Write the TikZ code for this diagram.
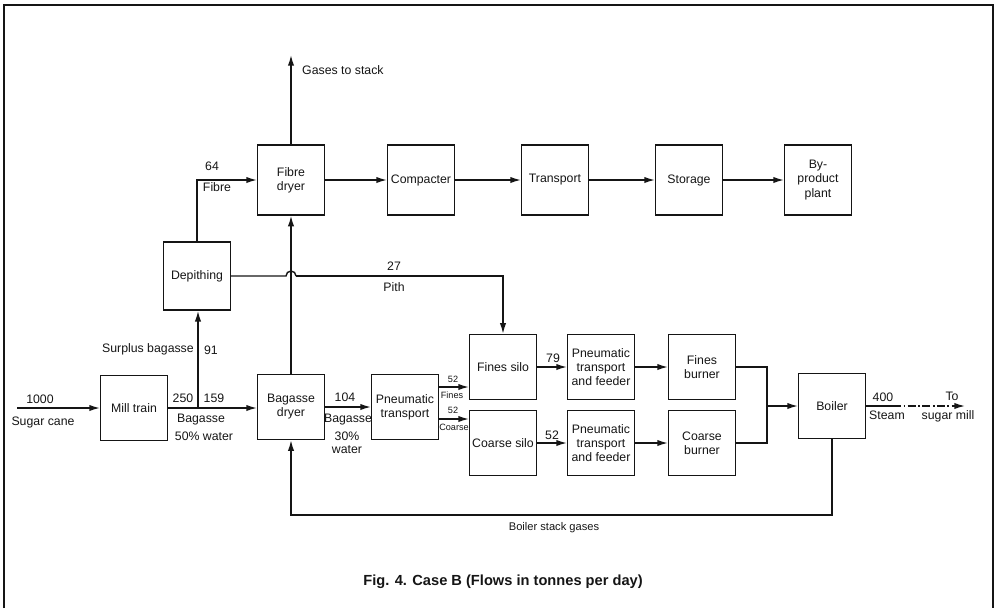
\documentclass[tikz,border=0pt]{standalone}
\usepackage{fontspec}
\setmainfont{Liberation Sans}
\usetikzlibrary{arrows.meta}
\definecolor{csInk}{HTML}{151515}

\begin{document}
\begin{tikzpicture}[x=0.3mm,y=-0.3mm,
		every node/.style={font=\fontsize{10.5}{12}\selectfont,text=csInk},
		procBox/.style={draw=csInk,line width=1.2pt,minimum width=20mm,minimum height=19.5mm,align=center,inner sep=1pt},
		tallBox/.style={procBox,minimum height=21mm},
		flowLine/.style={draw=csInk,line width=1.2pt},
		flowArr/.style={flowLine,-{Latex[length=3.2mm,width=1.9mm]}},
		flowLbl/.style={inner sep=0pt},
		tinyLbl/.style={inner sep=0pt,font=\fontsize{7.8}{9}\selectfont}]
		\useasboundingbox (0,0) rectangle (996,608);
		\draw[csInk,line width=1.6pt] (4,608) -- (4,5) -- (993,5) -- (993,608);
		\node[tallBox] (fibredryer) at (291,180) {Fibre\\dryer};
		\node[tallBox] (compacter) at (421,180) {Compacter};
		\node[tallBox] (transport) at (555,180) {Transport};
		\node[tallBox] (storage) at (689,180) {Storage};
		\node[tallBox] (byproduct) at (818,180) {By-\\product\\plant};
		\node[procBox,minimum height=20.5mm] (depithing) at (197,276) {Depithing};
		\node[procBox] (milltrain) at (134,408) {Mill train};
		\node[procBox] (bagdryer) at (291,407) {Bagasse\\dryer};
		\node[procBox] (pneutrans) at (405,407) {Pneumatic\\transport};
		\node[procBox] (finessilo) at (503,367) {Fines silo};
		\node[procBox] (coarsesilo) at (503,443) {Coarse silo};
		\node[procBox] (feederA) at (601,367) {Pneumatic\\transport\\and feeder};
		\node[procBox] (feederB) at (601,443) {Pneumatic\\transport\\and feeder};
		\node[procBox] (finesburner) at (702,367) {Fines\\burner};
		\node[procBox] (coarseburner) at (702,443) {Coarse\\burner};
		\node[procBox] (boiler) at (832,406) {Boiler};
		\coordinate (caneIn) at (17,408);
		\coordinate (splitA) at (198,408);
		\coordinate (gasTop) at (291,55);
		\coordinate (hopL) at (286,276);
		\coordinate (merge) at (767,406);
		\coordinate (steamA) at (893,406);
		\coordinate (steamEnd) at (965,406);
		\coordinate (stackLow) at (0,515);
		\draw[flowArr] (fibredryer) -- (compacter);
		\draw[flowArr] (compacter) -- (transport);
		\draw[flowArr] (transport) -- (storage);
		\draw[flowArr] (storage) -- (byproduct);
		\draw[flowArr] (fibredryer.north) -- (gasTop);
		\draw[flowArr] (depithing.north) |- (fibredryer.west);
		\draw[flowArr] (caneIn) -- (milltrain.west);
		\draw[flowArr] (milltrain.east) -- (milltrain.east -| bagdryer.west);
		\draw[flowArr] (splitA) -- (splitA |- depithing.south);
		\draw[flowArr] (bagdryer.north) -- (fibredryer.south);
		\draw[flowLine] (depithing.east) -- (hopL) arc[start angle=180,end angle=0,radius=1.5mm] coordinate (hopR);
		\draw[flowArr] (hopR) -| (finessilo.north);
		\draw[flowArr] (bagdryer) -- (pneutrans);
		\draw[flowArr] ([yshift=6mm]pneutrans.east) coordinate (finesOut) -- (finesOut -| finessilo.west);
		\draw[flowArr] ([yshift=-3.6mm]pneutrans.east) coordinate (coarseOut) -- (coarseOut -| coarsesilo.west);
		\draw[flowArr] (finessilo) -- (feederA);
		\draw[flowArr] (coarsesilo) -- (feederB);
		\draw[flowArr] (feederA) -- (finesburner);
		\draw[flowArr] (feederB) -- (coarseburner);
		\draw[flowLine] (finesburner.east) -| (merge) |- (coarseburner.east);
		\draw[flowArr] (merge) -- (boiler.west);
		\draw[flowLine] (boiler.east) -- (steamA);
		\draw[flowArr,dash pattern=on 7pt off 2pt on 1.5pt off 2pt] (steamA) -- (steamEnd);
		\draw[flowArr] (boiler.south) |- (stackLow -| bagdryer.south) -- (bagdryer.south);
		\node[flowLbl,anchor=west] (lgas) at (302,70) {Gases to stack};
		\node[flowLbl] (l64) at (212,166) {64};
		\node[flowLbl] (lfibre) at (217,187) {Fibre};
		\node[flowLbl] (l27) at (394,266) {27};
		\node[flowLbl] (lpith) at (394,287) {Pith};
		\node[flowLbl,anchor=east] (lsurplus) at (194,349) {Surplus bagasse};
		\node[flowLbl] (l91) at (211,350) {91};
		\node[flowLbl] (l1000) at (40,399) {1000};
		\node[flowLbl] (lcane) at (43,422) {Sugar cane};
		\node[flowLbl] (l250) at (183,398) {250};
		\node[flowLbl] (l159) at (214,398) {159};
		\node[flowLbl] (lbagA) at (201,420) {Bagasse};
		\node[flowLbl] (lwaterA) at (204,436) {50\% water};
		\node[flowLbl] (l104) at (345,397) {104};
		\node[flowLbl] (lbagB) at (348,420) {Bagasse};
		\node[flowLbl] (l30) at (347,436) {30\%};
		\node[flowLbl] (lwaterB) at (347,450) {water};
		\node[tinyLbl] (l52f) at (453,379) {52};
		\node[tinyLbl] (lfines) at (452,395) {Fines};
		\node[tinyLbl] (l52c) at (453,410) {52};
		\node[tinyLbl] (lcoarse) at (454,427) {Coarse};
		\node[flowLbl] (l79) at (553,358) {79};
		\node[flowLbl] (l52) at (552,435) {52};
		\node[flowLbl] (l400) at (883,397) {400};
		\node[flowLbl] (lsteam) at (887,415) {Steam};
		\node[flowLbl] (lto) at (952,396) {To};
		\node[flowLbl] (lmill) at (948,416) {sugar mill};
		\node[flowLbl,font=\fontsize{9.5}{11}\selectfont] (lstack) at (554,528) {Boiler stack gases};
		\node[flowLbl,font=\fontsize{12.5}{14}\selectfont\bfseries] (caption) at (503,582) {Fig. 4. Case B (Flows in tonnes per day)};
	\end{tikzpicture}
\end{document}
